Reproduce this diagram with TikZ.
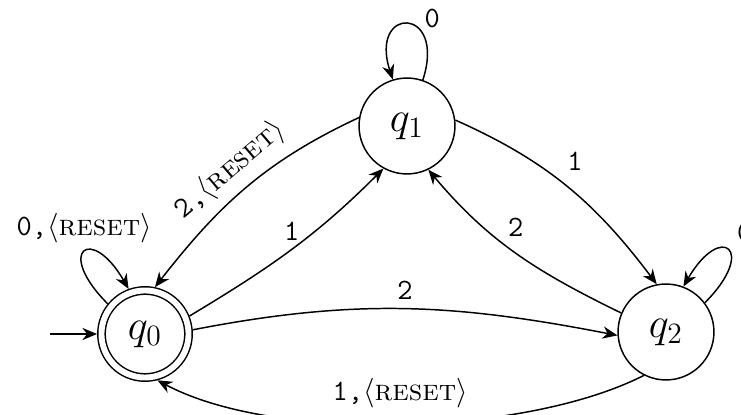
\documentclass[tikz,border=0pt]{standalone}
\usepackage{amsmath}
\usepackage{tikz}
\usetikzlibrary{arrows.meta}
\tikzset{
    state-node/.style = {draw, circle, line width=0.6pt, minimum size=39pt, inner sep=0pt, font=\LARGE},
    accept-node/.style = {state-node, minimum size=35.4pt, double, double distance=2.4pt, outer sep=1.8pt},
    edge-arrow/.style = {-{Stealth[length=6pt,width=5pt]}, line width=0.6pt},
    edge-label/.style = {font=\large},
}
\newcommand{\resetsym}{$\langle$\textsc{reset}$\rangle$}

\begin{document}
\begin{tikzpicture}[x=0.4066pt, y=0.4066pt]
\useasboundingbox (0,0) rectangle (741,415);
\node[accept-node] (q0) at (145,81) {$q_0$};
\node[state-node] (q1) at (407,289) {$q_1$};
\node[state-node] (q2) at (666,83) {$q_2$};
\coordinate (init) at (50,81);

% start arrow and self loops
\draw[edge-arrow] (init) -- (q0);
\draw[edge-arrow] (q0.141) .. controls +(135:75) and +(120:75) .. node[edge-label, above] {\texttt{0,}\resetsym} (q0.110);
\draw[edge-arrow] (q1.71) .. controls +(72:78) and +(108:78) .. node[edge-label, pos=0.4, right, yshift=3pt] {\texttt{0}} (q1.107);
\draw[edge-arrow] (q2.37) .. controls +(45:75) and +(60:75) .. node[edge-label, above right] {\texttt{0}} (q2.69);

% transitions
\draw[edge-arrow] (q0.22) to[out=31, in=225] node[edge-label, above] {\texttt{1}} (q1.241);
\draw[edge-arrow] (q1.170) to[out=205, in=52] node[edge-label, sloped, above] {\texttt{2,}\resetsym} (q0.78);
\draw[edge-arrow] (q1.7) to[out=-24, in=127] node[edge-label, pos=0.45, above right] {\texttt{1}} (q2.101);
\draw[edge-arrow] (q2.157) to[out=154, in=-50] node[edge-label, above=3pt] {\texttt{2}} (q1.296);
\draw[edge-arrow] (q0.5) to[out=11, in=169] node[edge-label, above] {\texttt{2}} (q2.184);
\draw[edge-arrow] (q2.243) to[out=207, in=-28, looseness=0.7] node[edge-label, above=3pt] {\texttt{1,}\resetsym} (q0.285);
\end{tikzpicture}
\end{document}
